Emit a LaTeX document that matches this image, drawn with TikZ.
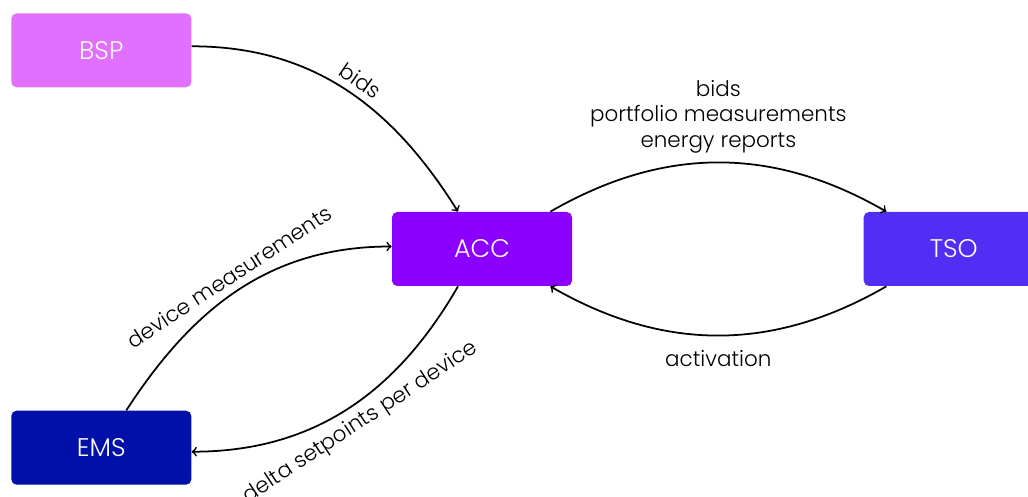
\documentclass[tikz,border=0pt]{standalone}
\usepackage{fontspec}
\setmainfont{Poppins}[UprightFont=* Light]
\usepackage{tikz}
\definecolor{bsppink}{HTML}{E270FF}
\definecolor{accpurple}{HTML}{8C00FF}
\definecolor{tsoblue}{HTML}{522EF5}
\definecolor{emsblue}{HTML}{0010A8}
\usetikzlibrary{shapes,arrows,positioning}

\begin{document}
\begin{tikzpicture}[
    every node/.style={font=\fontsize{12.2}{14.5}\selectfont},
    box/.style={rectangle, rounded corners=3pt, minimum width=3.6cm, minimum height=1.48cm,
      text=white, font=\fontsize{14.5}{16}\selectfont},
    flow/.style={->, line width=1pt},
    lbl/.style={inner sep=4pt}
    ]
  \useasboundingbox (0,0) rectangle (20.56,-9.94);
  % actors
  \node [box, fill=accpurple] (ACC) at (9.64,-4.98) {ACC};
  \node [box, fill=bsppink, above left=2.48cm and 4cm of ACC] (BSP) {BSP};
  \node [box, fill=emsblue, below left=2.48cm and 4cm of ACC] (EMS) {EMS};
  \node [box, fill=tsoblue, right=5.82cm of ACC] (TSO) {TSO};
  % flows
  \draw [flow] ([yshift=0.08cm]BSP.east) to [out=0, in=122]
    node [lbl, pos=0.52, above, sloped] {bids} ([xshift=-0.48cm]ACC.north);
  \draw [flow] ([xshift=0.5cm]EMS.north) to [out=57, in=180]
    node [lbl, midway, above, sloped] {device measurements} ([yshift=0.05cm]ACC.west);
  \draw [flow] ([xshift=-0.48cm]ACC.south) to [out=-120, in=0]
    node [lbl, pos=0.49, below, sloped] {delta setpoints per device} ([yshift=-0.08cm]EMS.east);
  \draw [flow] ([xshift=-0.44cm]ACC.north east) to [bend left=30]
    node [midway, above=0.06cm, align=center] {bids\\portfolio measurements\\energy reports} ([xshift=0.46cm]TSO.north west);
  \draw [flow] ([xshift=0.46cm]TSO.south west) to [bend left=30]
    node [midway, below=0.16cm] {activation} ([xshift=-0.44cm]ACC.south east);
\end{tikzpicture}
\end{document}
